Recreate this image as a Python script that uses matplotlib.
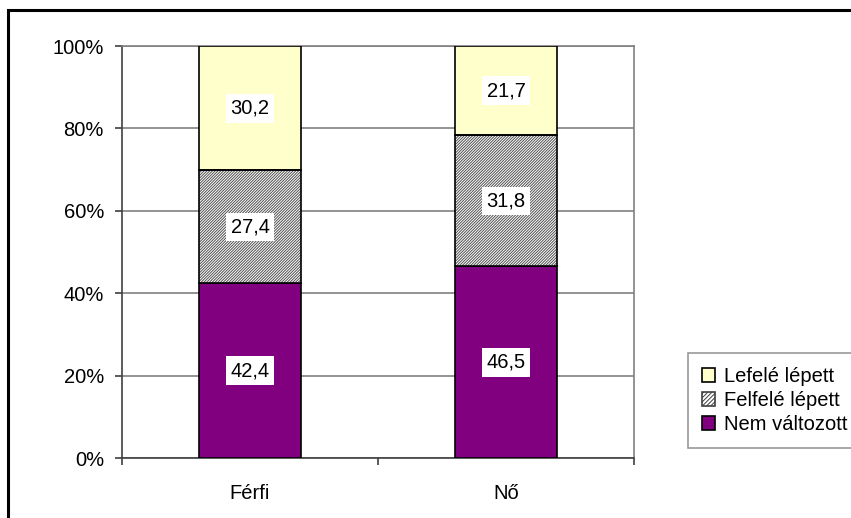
import matplotlib
matplotlib.use("Agg")
import matplotlib.pyplot as plt
from matplotlib.patches import Rectangle, Patch

categories = ["Férfi", "Nő"]
series_names = ["Nem változott", "Felfelé lépett", "Lefelé lépett"]
nem_valtozott = [42.4, 46.5]
felfele = [27.4, 31.8]
lefele = [30.2, 21.7]
yticks = [0, 20, 40, 60, 80, 100]
ytick_labels = ["0%", "20%", "40%", "60%", "80%", "100%"]

plt.rcParams['font.family'] = ['Liberation Sans', 'DejaVu Sans']
plt.rcParams['hatch.linewidth'] = 0.7

fig = plt.figure(figsize=(8.51, 5.18), dpi=100)
ax = fig.add_axes([122/851, 1-458/518, (634-122)/851, (458-46)/518])

x = list(range(len(categories)))
w = 0.4
fs = 14.5
HATCH = "/" * 12

b1 = ax.bar(x, nem_valtozott, width=w, color="#800080", edgecolor="black", linewidth=1.2, zorder=3)
bottom2 = nem_valtozott
b2 = ax.bar(x, felfele, width=w, bottom=bottom2, color="white", edgecolor="#505050",
            hatch=HATCH, linewidth=0, zorder=3)
ax.bar(x, felfele, width=w, bottom=bottom2, fill=False, edgecolor="black", linewidth=1.2, zorder=4)
bottom3 = [a + b for a, b in zip(nem_valtozott, felfele)]
b3 = ax.bar(x, lefele, width=w, bottom=bottom3, color="#FFFFCC", edgecolor="black", linewidth=1.2, zorder=3)

def fmt(v):
    return f"{v:.1f}".replace(".", ",")

for vals, bots in [(nem_valtozott, [0, 0]), (felfele, bottom2), (lefele, bottom3)]:
    for xi, v, b in zip(x, vals, bots):
        ax.text(xi, b + v / 2, fmt(v), ha="center", va="center", fontsize=fs, zorder=5,
                bbox=dict(facecolor="white", edgecolor="none", pad=3.5))

ax.set_xlim(-0.5, 1.5)
ax.set_ylim(0, 100)
ax.set_yticks(yticks)
ax.set_yticklabels(ytick_labels, fontsize=fs)
ax.set_xticks(x)
ax.set_xticklabels(categories, fontsize=fs)
ax.set_xticks([-0.5, 0.5, 1.5], minor=True)
ax.tick_params(axis="x", which="major", length=0, pad=19)
ax.tick_params(axis="x", which="minor", length=5, width=1.2, color="#404040", direction="out")
ax.tick_params(axis="y", length=5, width=1.2, color="#404040", pad=8, direction="out")
ax.yaxis.grid(True, color="#808080", linewidth=1.2, zorder=0)
ax.set_axisbelow(True)

ax.spines["left"].set_color("#404040")
ax.spines["left"].set_linewidth(1.2)
ax.spines["bottom"].set_color("#404040")
ax.spines["bottom"].set_linewidth(1.2)
ax.spines["right"].set_color("#808080")
ax.spines["right"].set_linewidth(1.2)
ax.spines["top"].set_color("#808080")
ax.spines["top"].set_linewidth(1.2)

handles = [
    Patch(facecolor="#FFFFCC", edgecolor="black", linewidth=1.2),
    Patch(facecolor="white", edgecolor="#404040", hatch="/" * 8, linewidth=1.2),
    Patch(facecolor="#800080", edgecolor="black", linewidth=1.2),
]
labels = [series_names[2], series_names[1], series_names[0]]
leg = fig.legend(handles, labels, loc="upper left", bbox_to_anchor=(688/851, 1-353/518),
                 fontsize=fs, frameon=True, fancybox=False, edgecolor="#808080",
                 handlelength=0.65, handleheight=0.65, handletextpad=0.45, borderpad=0.7,
                 labelspacing=0.25, borderaxespad=0)
leg.get_frame().set_linewidth(1.2)

fig.patches.append(Rectangle((8/851, -0.1), 1.2, 1 - 10/518 + 0.1, transform=fig.transFigure,
                             fill=False, edgecolor="black", linewidth=2.2, zorder=10))

fig.savefig("out.png", dpi=100)
